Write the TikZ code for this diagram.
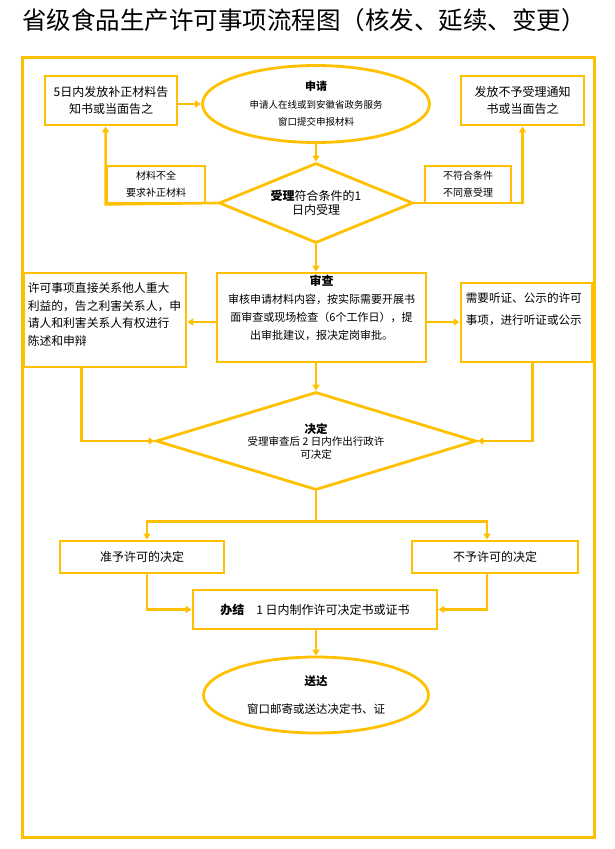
\documentclass[tikz,border=0pt]{standalone}
\usepackage{fontspec}
\setmainfont{Noto Sans CJK SC}
\usetikzlibrary{arrows.meta,shapes.geometric}
\definecolor{gold}{HTML}{FFC000}

\begin{document}
\begin{tikzpicture}[x=1pt,y=-1pt,every node/.style={font=\fontsize{12}{17}\selectfont},
  box/.style={draw=gold,line width=2.8pt,inner sep=0pt,align=center},
  tag/.style={draw=gold,line width=2.8pt,inner sep=0pt,align=center,font=\fontsize{10}{17}\selectfont},
  flow/.style={draw=gold,line width=2.6pt,-{Triangle[length=6pt,width=7pt]}},
  link/.style={draw=gold,line width=2.6pt}]
\useasboundingbox (0,0) rectangle (614,849);
\node[anchor=west,inner sep=0pt,font=\fontsize{24.5}{27}\selectfont] (title) at (22,20) {省级食品生产许可事项流程图（核发、延续、变更）};
\draw[gold,line width=3pt] (22,57) rectangle (594,837);
% first row
\node[box,minimum width=132pt,minimum height=49pt] (back) at (111,100.5) {5日内发放补正材料告\\知书或当面告之};
\node[box,ellipse,minimum width=227pt,minimum height=77pt,font=\fontsize{9.5}{17.5}\selectfont] (apply) at (316,104) {\textbf{\fontsize{11}{17.5}\selectfont 申请}\\申请人在线或到安徽省政务服务\\窗口提交申报材料};
\node[box,minimum width=123pt,minimum height=49pt] (refuse) at (522.5,100.5) {发放不予受理通知\\书或当面告之};
% acceptance
\node[box,diamond,shape aspect=2.4,minimum width=194pt,minimum height=80pt,font=\fontsize{12}{14}\selectfont] (accept) at (316,203) {\textbf{受理}符合条件的1\\日内受理};
\node[tag,minimum width=98pt,minimum height=37pt] (lack) at (156,184.5) {材料不全\\要求补正材料};
\node[tag,minimum width=86pt,minimum height=37pt] (nofit) at (468,184.5) {不符合条件\\不同意受理};
\draw[flow] (back.east |- apply.west) -- (apply.west);
\draw[flow] (apply.south) -- (accept.north);
\draw[flow] (accept.west) -- (lack.south west) -- (lack.south west |- back.south);
\draw[flow] (accept.east) -| (refuse.south);
% review
\node[box,minimum width=209pt,minimum height=89pt] (review) at (321.5,317.5) {};
\node[anchor=north,inner sep=0pt,align=center,font=\fontsize{11}{18}\selectfont] (reviewtxt) at ([yshift=-3pt]review.north) {\textbf{\fontsize{12}{15}\selectfont 审查}\\审核申请材料内容，按实际需要开展书\\面审查或现场检查（6个工作日），提\\出审批建议，报决定岗审批。};
\node[box,minimum width=162pt,minimum height=94pt] (inform) at (105,320) {};
\node[anchor=north west,inner sep=0pt,align=left,font=\fontsize{11.8}{17.5}\selectfont] (informtxt) at ([xshift=5pt,yshift=-11pt]inform.north west) {许可事项直接关系他人重大\\利益的，告之利害关系人，申\\请人和利害关系人有权进行\\陈述和申辩};
\node[box,minimum width=131pt,minimum height=79pt] (hearing) at (526.5,322.5) {};
\node[anchor=north west,inner sep=0pt,align=left,font=\fontsize{11.6}{22}\selectfont] (hearingtxt) at ([xshift=6pt,yshift=-11pt]hearing.north west) {需要听证、公示的许可\\事项，进行听证或公示};
\draw[flow] (accept.south) -- (accept.south |- review.north);
\draw[flow] (review.west |- 0,322) -- (inform.east |- 0,322);
\draw[flow] (review.east |- 0,322) -- (hearing.west |- 0,322);
% decision
\node[box,diamond,shape aspect=3.2,minimum width=320pt,minimum height=98pt,font=\fontsize{10.5}{12.5}\selectfont] (decide) at (316,441) {\textbf{\fontsize{11.5}{13}\selectfont 决定}\\受理审查后 2 日内作出行政许\\可决定};
\draw[flow] (review.south -| decide.north) -- (decide.north);
\draw[flow] (inform.south west) ++(59,0) |- (decide.west);
\draw[flow] (hearing.south west) ++(73,0) |- (decide.east);
% result
\node[box,minimum width=164pt,minimum height=32pt] (grant) at (142,557) {准予许可的决定};
\node[box,minimum width=166pt,minimum height=32pt] (deny) at (495,557) {不予许可的决定};
\node[box,minimum width=244pt,minimum height=39pt] (finish) at (315,609.5) {\textbf{办结}\quad 1 日内制作许可决定书或证书};
\node[box,ellipse,minimum width=225pt,minimum height=76pt,font=\fontsize{11.5}{28}\selectfont] (deliver) at (316,695) {\textbf{送达}\\窗口邮寄或送达决定书、证};
\draw[link] (decide.south) -- ++(0,30) coordinate (split);
\draw[flow] (split) -| ([xshift=5pt]grant.north);
\draw[flow] (split) -| ([xshift=-8pt]deny.north);
\draw[flow] ([xshift=5pt]grant.south) |- (finish.west);
\draw[flow] ([xshift=-8pt]deny.south) |- (finish.east);
\draw[flow] (finish.south -| deliver.north) -- (deliver.north);
\end{tikzpicture}
\end{document}
